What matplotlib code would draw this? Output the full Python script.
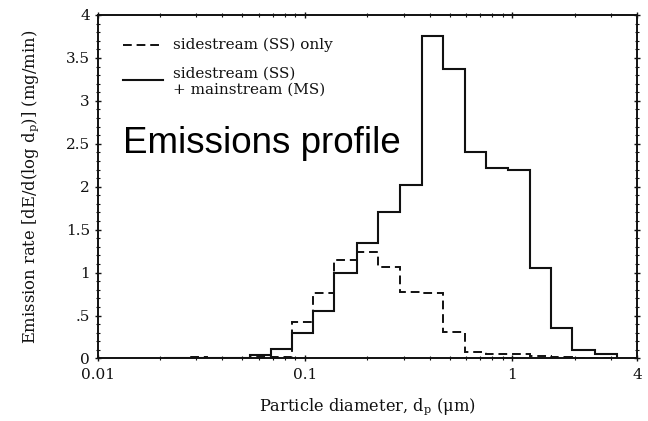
import matplotlib
matplotlib.use("Agg")
import matplotlib.pyplot as plt
from matplotlib.ticker import NullFormatter, MultipleLocator, FixedLocator

# ── Data ──────────────────────────────────────────────────────────────────────
edges = [0.021, 0.0266, 0.0338, 0.0429, 0.0545, 0.0687, 0.0868, 0.110, 0.139,
         0.179, 0.225, 0.289, 0.368, 0.463, 0.590, 0.745, 0.951, 1.22, 1.535,
         1.954, 2.50, 3.22]
ss_ms = [0.005, 0.005, 0.005, 0.005, 0.035, 0.11, 0.30, 0.55, 0.99, 1.34, 1.70,
         2.02, 3.76, 3.37, 2.40, 2.22, 2.20, 1.05, 0.35, 0.093, 0.055]
ss_only = [0.005, 0.015, 0.01, 0.01, 0.02, 0.02, 0.43, 0.76, 1.15, 1.24, 1.06,
           0.78, 0.76, 0.31, 0.07, 0.05, 0.05, 0.025, 0.02, 0.005, 0.005]

x_ticks = [0.01, 0.1, 1, 4]
x_ticklabels = ["0.01", "0.1", "1", "4"]
y_ticks = [0, 0.5, 1, 1.5, 2, 2.5, 3, 3.5, 4]
y_ticklabels = ["0", ".5", "1", "1.5", "2", "2.5", "3", "3.5", "4"]

INK = "#111111"
SERIF = "DejaVu Serif"

fig = plt.figure(figsize=(6.48, 4.21), dpi=100)
ax = fig.add_axes([0.1505, 0.1485, 0.8325, 0.8159])

ax.stairs(ss_only, edges, color=INK, lw=1.4, linestyle=(0, (4.5, 2.5)))
ax.stairs(ss_ms, edges, color=INK, lw=1.5)

ax.set_xscale("log")
ax.set_xlim(0.01, 4)
ax.set_ylim(0, 4)

ax.xaxis.set_major_locator(FixedLocator(x_ticks))
ax.set_xticklabels(x_ticklabels)
ax.xaxis.set_minor_formatter(NullFormatter())
ax.set_yticks(y_ticks)
ax.set_yticklabels(y_ticklabels)
ax.yaxis.set_minor_locator(MultipleLocator(0.1))

ax.tick_params(which="both", direction="inout", top=True, right=True,
               colors=INK, labelsize=11)
ax.tick_params(which="major", length=4, width=1)
ax.tick_params(axis="x", which="major", pad=5)
ax.tick_params(which="minor", length=2.5, width=0.8)
for lab in ax.get_xticklabels() + ax.get_yticklabels():
    lab.set_family(SERIF)
for s in ax.spines.values():
    s.set_linewidth(1.4)
    s.set_color(INK)

ax.set_xlabel(r"Particle diameter, d$_\mathregular{p}$ ($\mathregular{\mu}$m)",
              family=SERIF, fontsize=11.7, color=INK, labelpad=10)
ax.set_ylabel(r"Emission rate [dE/d(log d$_\mathregular{p}$)] (mg/min)",
              family=SERIF, fontsize=11.8, color=INK, labelpad=18)

# ── Legend (hand placed, like the scanned original) ───────────────────────────
ax.plot([0.047, 0.121], [0.913, 0.913], transform=ax.transAxes,
        color=INK, lw=1.4, linestyle=(0, (4.5, 2.5)))
ax.text(0.139, 0.913, "sidestream (SS) only", transform=ax.transAxes,
        ha="left", va="center", family=SERIF, fontsize=11, color=INK)
ax.plot([0.047, 0.121], [0.812, 0.812], transform=ax.transAxes,
        color=INK, lw=1.5)
ax.text(0.139, 0.807, "sidestream (SS)\n+ mainstream (MS)",
        transform=ax.transAxes, ha="left", va="center", family=SERIF,
        fontsize=11, color=INK, linespacing=1.2)

ax.text(0.047, 0.625, "Emissions profile", transform=ax.transAxes,
        ha="left", va="center", family="Liberation Sans", fontsize=26.5,
        color="black")

fig.savefig("out.png", dpi=100, facecolor="white")
